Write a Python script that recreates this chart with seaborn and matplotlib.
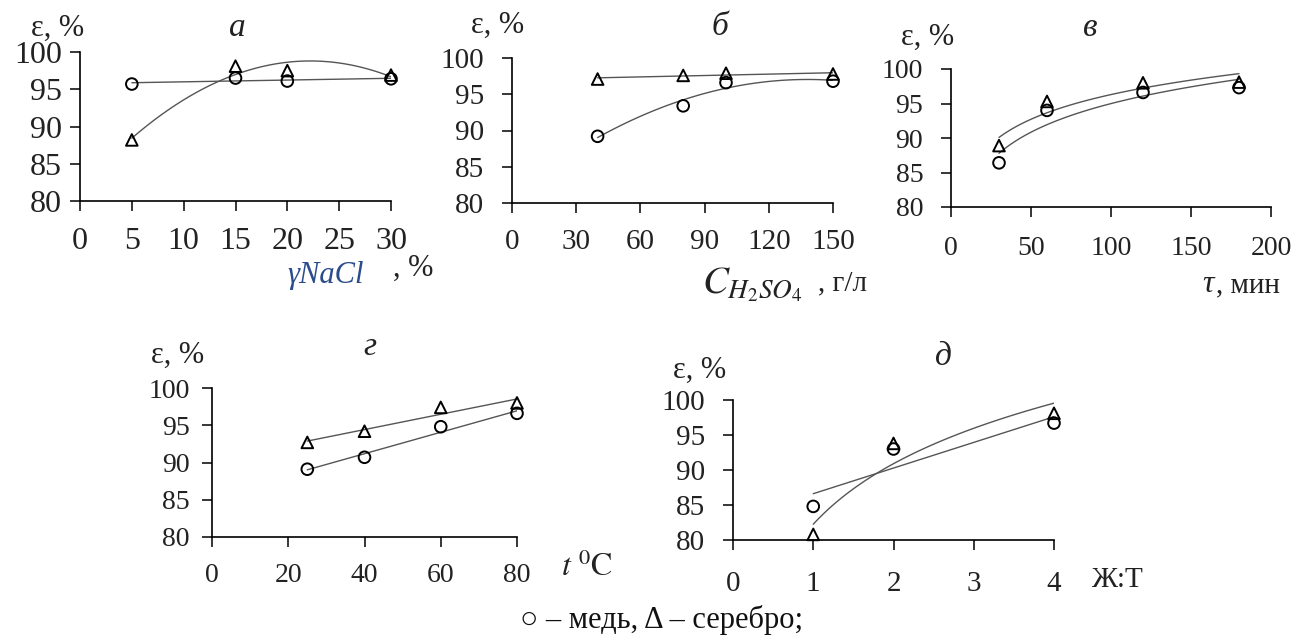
import matplotlib
matplotlib.use('Agg')
import matplotlib.pyplot as plt
import seaborn as sns

# а: концентрация NaCl
nacl = [5, 15, 20, 30]
nacl_cu = [95.7, 96.5, 96.1, 96.4]
nacl_ag = [88.2, 98.1, 97.5, 96.9]

# б: концентрация H2SO4, г/л
h2so4 = [40, 80, 100, 150]
h2so4_cu = [89.2, 93.4, 96.6, 96.8]
h2so4_ag = [97.1, 97.6, 97.9, 97.8]

# в: время, мин
tau = [30, 60, 120, 180]
tau_cu = [86.4, 94.0, 96.6, 97.3]
tau_ag = [88.9, 95.3, 98.0, 98.1]

# г: температура
temp = [25, 40, 60, 80]
temp_cu = [89.1, 90.7, 94.8, 96.6]
temp_ag = [92.7, 94.2, 97.4, 98.0]

# д: Ж:Т
lt = [1, 2, 4]
lt_cu = [84.8, 93.0, 96.7]
lt_ag = [80.8, 93.8, 98.1]

yticks = [80, 85, 90, 95, 100]

sns.set_theme(style='ticks')
plt.rcParams['font.family'] = ['Liberation Serif', 'DejaVu Serif']
plt.rcParams['mathtext.fontset'] = 'stix'

W, H = 1313, 640
fig = plt.figure(figsize=(W / 100, H / 100), dpi=100)


def rect(x0, y0, x1, y1):
    return [x0 / W, 1 - y1 / H, (x1 - x0) / W, (y1 - y0) / H]


def ftext(x, y, s, **kw):
    kw.setdefault('ha', 'center')
    kw.setdefault('va', 'center')
    fig.text(x / W, 1 - y / H, s, **kw)


panels = [
    dict(x=nacl, cu=nacl_cu, ag=nacl_ag, box=(80, 52, 391, 201),
         xticks=[0, 5, 10, 15, 20, 25, 30], cu_fit={}, ag_fit={'order': 2},
         fs=23, xpad=12, ypad=6),
    dict(x=h2so4, cu=h2so4_cu, ag=h2so4_ag, box=(512, 58, 833, 203),
         xticks=[0, 30, 60, 90, 120, 150], cu_fit={'order': 2}, ag_fit={},
         fs=21, xpad=12, ypad=13),
    dict(x=tau, cu=tau_cu, ag=tau_ag, box=(951, 69, 1271, 207),
         xticks=[0, 50, 100, 150, 200], cu_fit={'logx': True}, ag_fit={'logx': True},
         fs=20, xpad=14, ypad=13),
    dict(x=temp, cu=temp_cu, ag=temp_ag, box=(212, 388, 517, 537),
         xticks=[0, 20, 40, 60, 80], cu_fit={}, ag_fit={},
         fs=20, xpad=12, ypad=9),
    dict(x=lt, cu=lt_cu, ag=lt_ag, box=(733, 400, 1054, 540),
         xticks=[0, 1, 2, 3, 4], cu_fit={}, ag_fit={'logx': True},
         fs=21, xpad=15, ypad=13),
]

for p in panels:
    ax = fig.add_axes(rect(*p['box']))
    for yy, fit, mk in [(p['cu'], p['cu_fit'], 'o'), (p['ag'], p['ag_fit'], '^')]:
        sns.regplot(x=p['x'], y=yy, ax=ax, scatter=False, ci=None, truncate=True,
                    line_kws={'color': '#555555', 'lw': 1.0}, **fit)
        sns.scatterplot(x=p['x'], y=yy, ax=ax, marker=mk, s=70, facecolor='none',
                        edgecolor='black', linewidth=1.4, clip_on=False, zorder=5)
    ax.set_xlim(p['xticks'][0], p['xticks'][-1])
    ax.set_ylim(80, 100)
    ax.set_xticks(p['xticks'])
    ax.set_yticks(yticks)
    ax.tick_params(axis='both', direction='out', length=7, width=1.1, color='black',
                   labelsize=p['fs'], labelcolor='#222222')
    ax.tick_params(axis='x', pad=p['xpad'])
    ax.tick_params(axis='y', pad=p['ypad'])
    for s in ['left', 'bottom']:
        ax.spines[s].set_color('black')
        ax.spines[s].set_linewidth(1.2)
    sns.despine(ax=ax)
    ax.set_xlabel('')
    ax.set_ylabel('')

# подписи осей и заголовки
ylab = dict(fontsize=22, color='#222222')
title = dict(fontsize=24, style='italic', color='#222222')
ftext(58, 28, 'ε, %', **ylab)
ftext(237, 28, 'а', **title)
ftext(498, 25, 'ε, %', **ylab)
ftext(720, 27, 'б', **title)
ftext(928, 37, 'ε, %', **ylab)
ftext(1090, 28, 'в', **title)
ftext(178, 355, 'ε, %', **ylab)
ftext(370, 347, 'г', **title)
ftext(700, 370, 'ε, %', **ylab)
ftext(943, 357, 'д', **title)

ftext(326, 276, 'γNaCl', fontsize=22, style='italic', color='#2b4c8c')
ftext(413, 268, ', %', fontsize=22, color='#222222')
ftext(752, 285, r'$C_{H_2SO_4}$', fontsize=28, color='#222222')
ftext(842, 283, ', г/л', fontsize=21, color='#222222')
ftext(1208, 285, 'τ', fontsize=23, style='italic', color='#222222')
ftext(1248, 285, ', мин', fontsize=21, color='#222222')
ftext(587, 568, r'$t\ ^0\mathrm{C}$', fontsize=23, color='#222222')
ftext(1117, 580, 'Ж:Т', fontsize=21, color='#222222')

ftext(662, 620, '○ – медь, Δ – серебро;', fontsize=22, color='#111111')

fig.savefig('out.png', dpi=100)
